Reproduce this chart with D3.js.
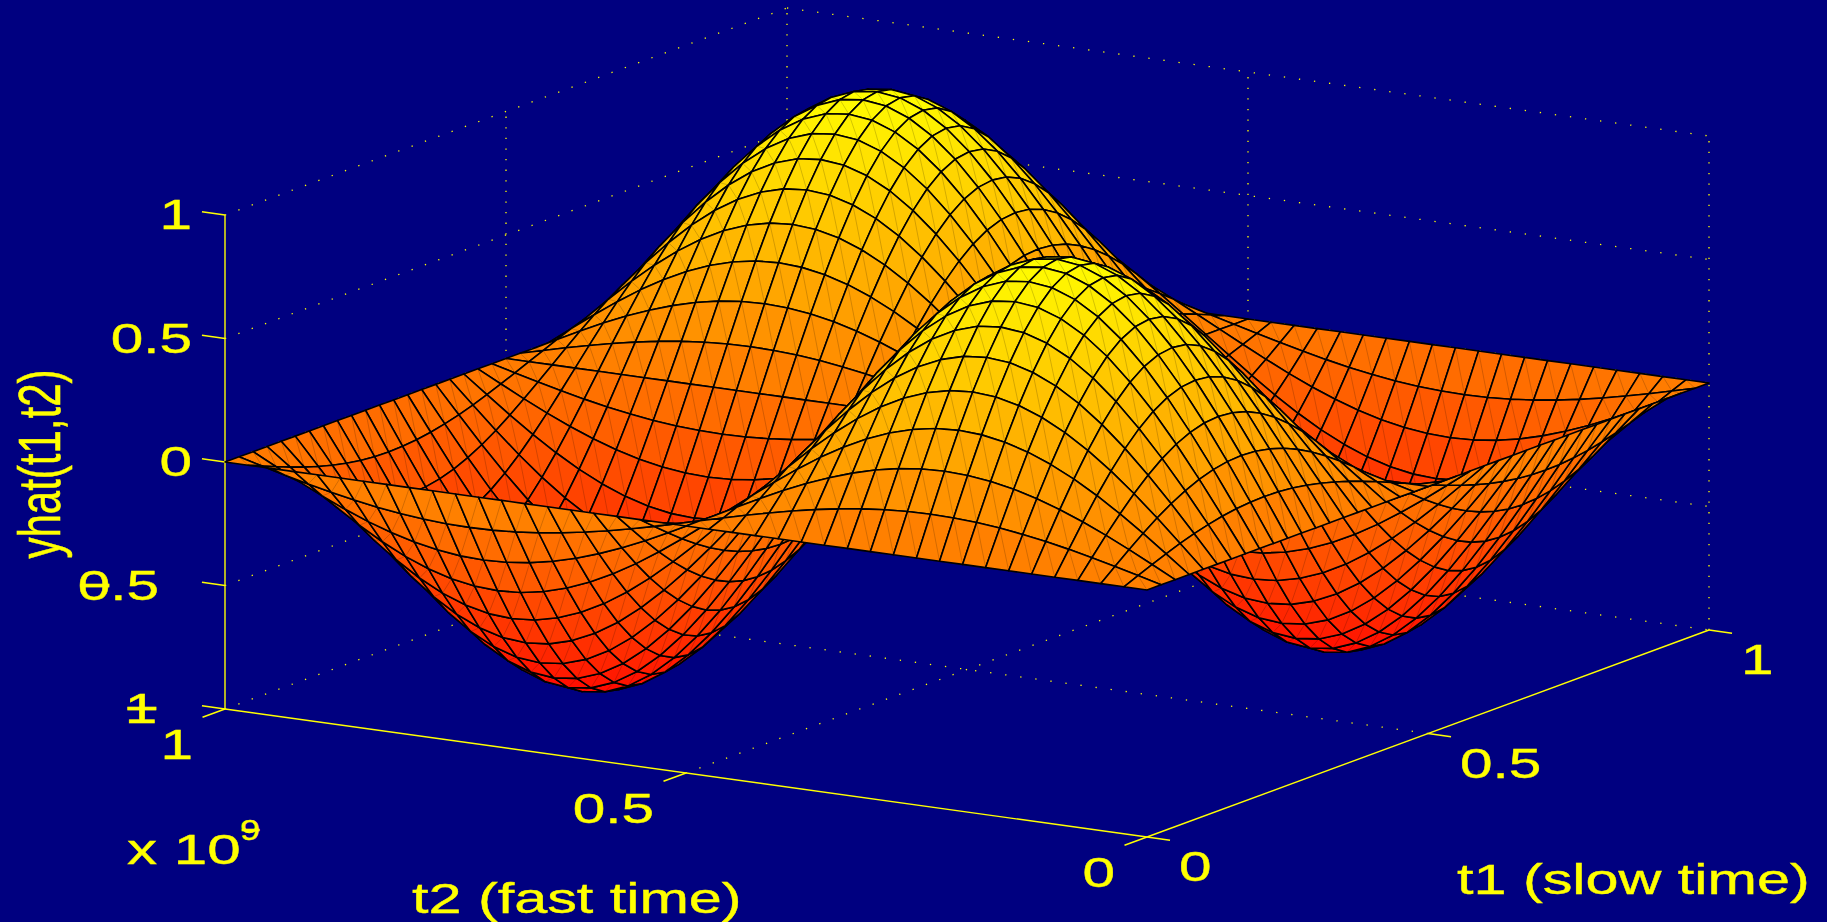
<!DOCTYPE html>
<html>
<head>
<meta charset="utf-8">
<title>yhat(t1,t2)</title>
<script src="https://cdnjs.cloudflare.com/ajax/libs/d3/7.8.5/d3.min.js"></script>
<style>
  html, body { margin: 0; padding: 0; background: #000080; overflow: hidden; }
  text { font-family: "Liberation Sans", Arial, sans-serif; fill: #ffff00; stroke: #ffff00; stroke-width: 0.4px; }
</style>
</head>
<body>
<script>
// Data
const t1Ticks = [0, 0.5, 1];
const t2Ticks = [0, 0.5, 1];
const zTicks = [-1, -0.5, 0, 0.5, 1];
const t1TickLabels = ['0', '0.5', '1'];
const t2TickLabels = ['0', '0.5', '1'];
const zTickLabels = ['-1', '-0.5', '0', '0.5', '1'];

// mesh sample positions, same for both time axes (41 lines each way)
const timeSamples = [0, 0.025, 0.05, 0.075, 0.1, 0.125, 0.15, 0.175, 0.2, 0.225, 0.25, 0.275, 0.3, 0.325, 0.35, 0.375, 0.4, 0.425, 0.45, 0.475, 0.5,
  0.525, 0.55, 0.575, 0.6, 0.625, 0.65, 0.675, 0.7, 0.725, 0.75, 0.775, 0.8, 0.825, 0.85, 0.875, 0.9, 0.925, 0.95, 0.975, 1];

// Cross sections of the surface through its peaks, one for each time axis.
// The surface is rebuilt as the product of the two instead of a typed 41x41 table.
const slowProfile = [0, 0.156, 0.309, 0.454, 0.588, 0.707, 0.809, 0.891, 0.951, 0.988, 1, 0.988, 0.951, 0.891, 0.809, 0.707, 0.588, 0.454, 0.309, 0.156, 0,
  -0.156, -0.309, -0.454, -0.588, -0.707, -0.809, -0.891, -0.951, -0.988, -1, -0.988, -0.951, -0.891, -0.809, -0.707, -0.588, -0.454, -0.309, -0.156, 0];
const fastProfile = [0, 0.156, 0.309, 0.454, 0.588, 0.707, 0.809, 0.891, 0.951, 0.988, 1, 0.988, 0.951, 0.891, 0.809, 0.707, 0.588, 0.454, 0.309, 0.156, 0,
  -0.156, -0.309, -0.454, -0.588, -0.707, -0.809, -0.891, -0.951, -0.988, -1, -0.988, -0.951, -0.891, -0.809, -0.707, -0.588, -0.454, -0.309, -0.156, 0];

const width = 1827;
const height = 922;
const yellow = '#ffff00';

const svg = d3.select('body').append('svg')
  .attr('width', width)
  .attr('height', height)
  .style('display', 'block')
  .style('background', '#000080');

// The 3D box is a parallelogram on screen, one scale per axis and screen direction.
const front = [1147, 837];
const t1X = d3.scaleLinear().domain([0, 1]).range([0, 562]);
const t1Y = d3.scaleLinear().domain([0, 1]).range([0, -207]);
const t2X = d3.scaleLinear().domain([0, 1]).range([0, -922]);
const t2Y = d3.scaleLinear().domain([0, 1]).range([0, -128]);
const zY = d3.scaleLinear().domain([-1, 1]).range([0, -494]);
const color = d3.scaleLinear().domain([-1, 1]).range(['#ff0000', '#ffff00']);

function project(t1, t2, z) {
  return [front[0] + t1X(t1) + t2X(t2), front[1] + t1Y(t1) + t2Y(t2) + zY(z)];
}

const line = d3.line();

// dotted grid on the back walls and the floor
const grid = svg.append('g').attr('fill', 'none').attr('stroke', yellow).attr('stroke-width', 1.3);
function dotted(a, b, gap) {
  grid.append('path').attr('d', line([a, b])).attr('stroke-dasharray', '1.3 ' + gap);
}
zTicks.forEach(z => {
  dotted(project(0, 1, z), project(1, 1, z), 12.9);
  dotted(project(1, 1, z), project(1, 0, z), 13.9);
});
t1Ticks.forEach(t => {
  if (t > 0) dotted(project(t, 1, -1), project(t, 1, 1), 9.3);
  if (t > 0 && t < 1) dotted(project(t, 0, -1), project(t, 1, -1), 13.9);
});
t2Ticks.forEach(t => {
  if (t < 1) dotted(project(1, t, -1), project(1, t, 1), 9.3);
  if (t > 0 && t < 1) dotted(project(0, t, -1), project(1, t, -1), 12.9);
});

// solid axes and tick marks
const axes = svg.append('g').attr('fill', 'none').attr('stroke', yellow).attr('stroke-width', 1.4);
axes.append('path').attr('d', line([project(0, 1, -1), project(0, 1, 1)]));
axes.append('path').attr('d', line([project(0, 0, -1), project(0, 1, -1)]));
axes.append('path').attr('d', line([project(0, 0, -1), project(1, 0, -1)]));

const tickLen = 0.025;
zTicks.forEach(z => {
  const a = project(0, 1, z);
  axes.append('path').attr('d', line([a, [a[0] + t2X(tickLen), a[1] + t2Y(tickLen)]]));
});
t1Ticks.forEach(t => {
  const a = project(t, 0, -1);
  axes.append('path').attr('d', line([a, [a[0] - t2X(tickLen), a[1] - t2Y(tickLen)]]));
});
t2Ticks.forEach(t => {
  const a = project(0, t, -1);
  axes.append('path').attr('d', line([a, [a[0] - t1X(1.6 * tickLen), a[1] - t1Y(1.6 * tickLen)]]));
});

// surface, drawn from the far corner to the near one
const cells = [];
for (let i = timeSamples.length - 2; i >= 0; i--) {
  for (let j = timeSamples.length - 2; j >= 0; j--) {
    cells.push({ i, j });
  }
}
const vertex = (i, j) => project(timeSamples[i], timeSamples[j], slowProfile[i] * fastProfile[j]);

const cell = svg.append('g').selectAll('g').data(cells).join('g');
cell.append('path')
  .attr('d', d => line([vertex(d.i, d.j), vertex(d.i + 1, d.j), vertex(d.i + 1, d.j + 1), vertex(d.i, d.j + 1)]) + 'Z')
  .attr('fill', d => color(slowProfile[d.i] * fastProfile[d.j]))
  .attr('stroke', '#000')
  .attr('stroke-width', 1.6)
  .attr('stroke-linejoin', 'round');
cell.append('path')
  .attr('d', d => line([vertex(d.i, d.j), vertex(d.i + 1, d.j + 1)]))
  .attr('stroke', '#000')
  .attr('stroke-opacity', 0.22)
  .attr('stroke-width', 0.8);

// all text in the original is stretched sideways
const fontSize = 43;
function label(x, y, str, anchor, size, stretch) {
  const t = svg.append('text')
    .attr('transform', `translate(${x},${y}) scale(${stretch},1)`)
    .attr('text-anchor', anchor)
    .attr('font-size', size);
  if (str[0] === '-') {
    // the minus sign sits on top of the first digit, as in the original
    t.append('tspan').text('\u2212');
    t.append('tspan').attr('dx', -0.584 * size).text(str.slice(1));
  } else {
    t.text(str);
  }
  return t;
}

const tickStretch = 1.36;
const titleStretch = 1.38;
zTicks.forEach((z, k) => {
  const a = project(0, 1, z);
  label(a[0] + (z < 0 ? -66 : -33), a[1] + 14, zTickLabels[k], 'end', fontSize, tickStretch);
});
t1Ticks.forEach((t, k) => {
  const a = project(t, 0, -1);
  label(a[0] + 32, a[1] + 44, t1TickLabels[k], 'start', fontSize, tickStretch);
});
t2Ticks.forEach((t, k) => {
  const a = project(0, t, -1);
  label(a[0] - 32, a[1] + 50, t2TickLabels[k], 'end', fontSize, tickStretch);
});

label(127, 864, 'x 10', 'start', fontSize, 1.4);
label(240, 840, '-9', 'start', 30, 1.2);
label(412, 912.5, 't2 (fast time)', 'start', fontSize, titleStretch);
label(1457, 894, 't1 (slow time)', 'start', fontSize, titleStretch);
svg.append('text')
  .attr('transform', 'translate(60,464) scale(1.39,1) rotate(-90)')
  .attr('text-anchor', 'middle')
  .attr('font-size', 42)
  .text('yhat(t1,t2)');
</script>
</body>
</html>
